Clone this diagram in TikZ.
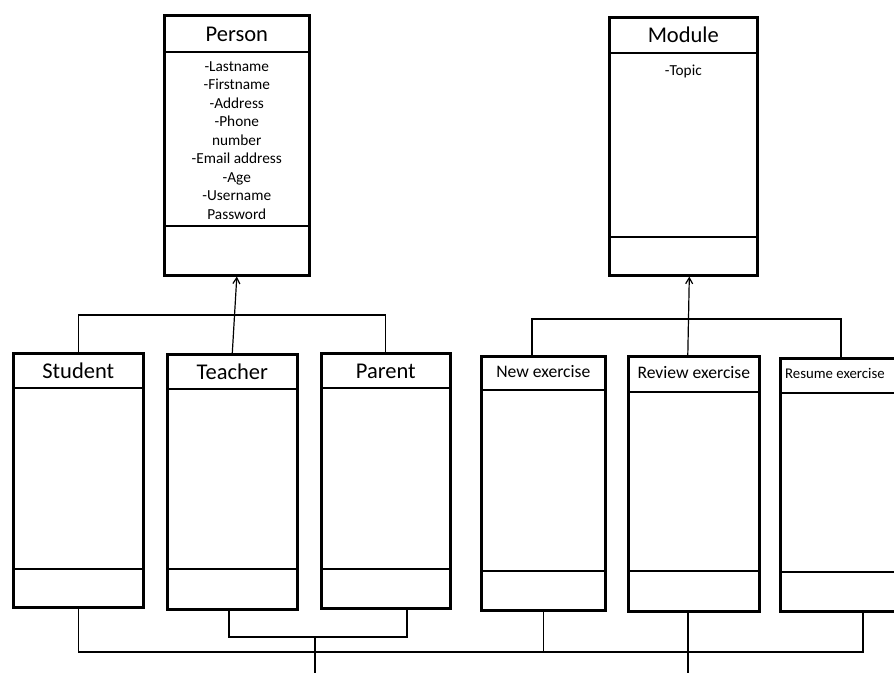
\documentclass[tikz,border=0pt]{standalone}
\usepackage{fontspec}
\setmainfont{Carlito}
\usetikzlibrary{calc,arrows.meta}

\begin{document}
\begin{tikzpicture}[x=1pt,y=-1pt,
  classbox/.style={draw=black, line width=2.6pt, rectangle, anchor=north west, inner sep=0pt},
  divider/.style={draw=black, line width=1.2pt},
  conn/.style={draw=black, line width=1.2pt},
  inherit/.style={conn, -{Straight Barb[length=6pt,width=7pt,line width=1.2pt]}},
  title/.style={font=\fontsize{22.5}{26}\selectfont, inner sep=0pt},
  smalltitle/.style={font=\fontsize{17.6}{20}\selectfont, inner sep=0pt},
  tinytitle/.style={font=\fontsize{14.8}{17}\selectfont, inner sep=0pt},
  attrs/.style={font=\fontsize{15.3}{18.5}\selectfont, align=center, inner sep=0pt, anchor=north}
]
\clip (0,0) rectangle (894,673);

% ---------- parent classes ----------
\node[classbox, minimum width=145pt, minimum height=260pt] (person) at (163,14) {};
\draw[divider] ($(person.north west)+(0,38)$) -- ($(person.north east)+(0,38)$);
\draw[divider] ($(person.north west)+(0,212)$) -- ($(person.north east)+(0,212)$);
\node[title] (personname) at ($(person.north)+(0,20)$) {Person};
\node[attrs] (personattrs) at ($(person.north)+(0,47)$)
  {-Lastname\\-Firstname\\-Address\\-Phone\\number\\-Email address\\-Age\\-Username\\Password};

\node[classbox, minimum width=148pt, minimum height=258pt] (module) at (608,16) {};
\draw[divider] ($(module.north west)+(0,37)$) -- ($(module.north east)+(0,37)$);
\draw[divider] ($(module.north west)+(0,221)$) -- ($(module.north east)+(0,221)$);
\node[title] (modulename) at ($(module.north)+(0,19)$) {Module};
\node[attrs] (moduleattrs) at ($(module.north)+(0,49)$) {-Topic};

% ---------- subclasses of Person ----------
\node[classbox, minimum width=130pt, minimum height=254pt] (student) at (12,352) {};
\draw[divider] ($(student.north west)+(0,36)$) -- ($(student.north east)+(0,36)$);
\draw[divider] ($(student.north west)+(0,217)$) -- ($(student.north east)+(0,217)$);
\node[title] (studentname) at ($(student.north)+(0,19)$) {Student};

\node[classbox, minimum width=130pt, minimum height=255pt] (teacher) at (166,353) {};
\draw[divider] ($(teacher.north west)+(0,36)$) -- ($(teacher.north east)+(0,36)$);
\draw[divider] ($(teacher.north west)+(0,216)$) -- ($(teacher.north east)+(0,216)$);
\node[title] (teachername) at ($(teacher.north)+(0,19)$) {Teacher};

\node[classbox, minimum width=129pt, minimum height=255pt] (parent) at (320,352) {};
\draw[divider] ($(parent.north west)+(0,36)$) -- ($(parent.north east)+(0,36)$);
\draw[divider] ($(parent.north west)+(0,217)$) -- ($(parent.north east)+(0,217)$);
\node[title] (parentname) at ($(parent.north)+(0,19)$) {Parent};

% ---------- subclasses of Module ----------
\node[classbox, minimum width=124pt, minimum height=254pt] (newex) at (480,355) {};
\draw[divider] ($(newex.north west)+(0,35)$) -- ($(newex.north east)+(0,35)$);
\draw[divider] ($(newex.north west)+(0,216)$) -- ($(newex.north east)+(0,216)$);
\node[smalltitle] (newexname) at ($(newex.north)+(0,17)$) {New exercise};

\node[classbox, minimum width=131pt, minimum height=255pt] (reviewex) at (627,355) {};
\draw[divider] ($(reviewex.north west)+(0,37)$) -- ($(reviewex.north east)+(0,37)$);
\draw[divider] ($(reviewex.north west)+(0,216)$) -- ($(reviewex.north east)+(0,216)$);
\node[smalltitle] (reviewexname) at ($(reviewex.north)+(0,18)$) {Review exercise};

\node[classbox, minimum width=130pt, minimum height=253pt] (resumeex) at (779,357) {};
\draw[divider] ($(resumeex.north west)+(0,36)$) -- ($(resumeex.north east)+(0,36)$);
\draw[divider] ($(resumeex.north west)+(0,215)$) -- ($(resumeex.north east)+(0,215)$);
\node[tinytitle, anchor=west] (resumeexname) at ($(resumeex.north west)+(6,16)$) {Resume exercise};

% ---------- generalisation connectors ----------
\coordinate (lbus) at (0,315);
\coordinate (rbus) at (0,319);
\coordinate (newtop) at (532,355);
\coordinate (resumetop) at (841,357);

\draw[conn] (student.north) -- (student.north |- lbus) -- (parent.north |- lbus) -- (parent.north);
\draw[inherit] (teacher.north) -- (person.south);

\draw[conn] (newtop) -- (newtop |- rbus) -- (resumetop |- rbus) -- (resumetop);
\draw[inherit] ($(reviewex.north)+(-6,0)$) -- ($(module.south)+(6,0)$);

% ---------- lower association lines ----------
\coordinate (bbus) at (0,652);
\coordinate (tbus) at (0,637);
\coordinate (teacherfoot) at (229,608);
\coordinate (parentfoot) at (407,607);
\coordinate (resumefoot) at (863,610);
\coordinate (reviewfoot) at (688,610);
\coordinate (midstem) at (315,673);
\coordinate (reviewstem) at (688,673);

\draw[conn] (student.south) -- (student.south |- bbus) -- (resumefoot |- bbus) -- (resumefoot);
\draw[conn] (newex.south) -- (newex.south |- bbus);
\draw[conn] (reviewfoot) -- (reviewstem);
\draw[conn] (teacherfoot) -- (teacherfoot |- tbus) -- (parentfoot |- tbus) -- (parentfoot);
\draw[conn] (midstem |- tbus) -- (midstem);
\end{tikzpicture}
\end{document}
